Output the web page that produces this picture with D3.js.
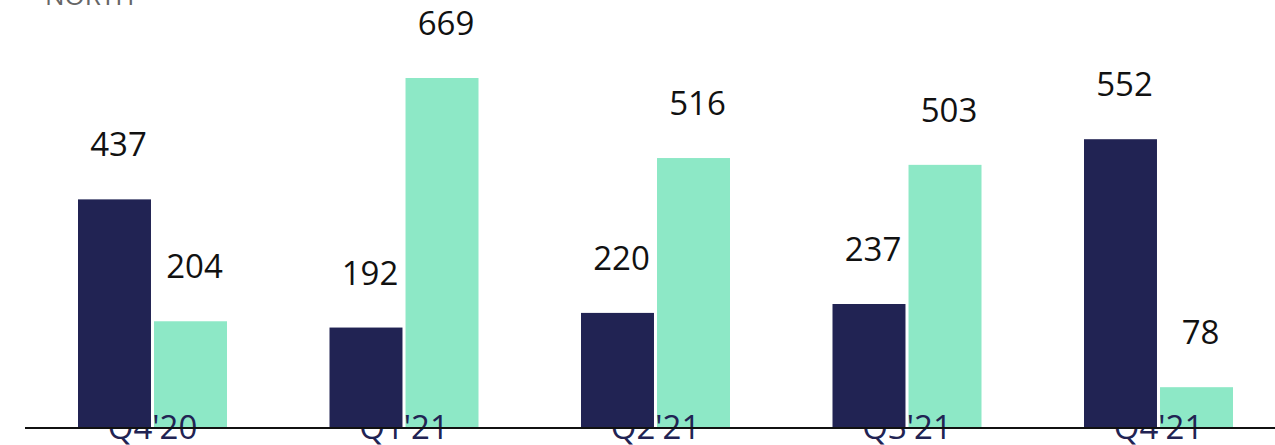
<!DOCTYPE html>
<html>
<head>
<meta charset="utf-8">
<script src="https://cdn.jsdelivr.net/npm/d3@7"></script>
<style>
  body { margin: 0; background: #fff; }
  svg { display: block; font-family: "Open Sans", sans-serif; }
</style>
</head>
<body>
<div id="chart"></div>
<script>
// chart data
const quarters = ["Q4'20", "Q1'21", "Q2'21", "Q3'21", "Q4'21"];
const seriesNames = ["first", "second"];
const firstValues = [437, 192, 220, 237, 552];
const secondValues = [204, 669, 516, 503, 78];
const title = "NORTH";

const colors = { first: "#212353", second: "#8de8c6" };

const width = 1275;
const height = 445;
const baseline = 428;

const data = quarters.map((q, i) => ({
  quarter: q,
  values: [
    { key: "first", value: firstValues[i] },
    { key: "second", value: secondValues[i] }
  ]
}));

const svg = d3.select('#chart').append('svg')
  .attr('width', width)
  .attr('height', height);

// group scale, one band per quarter
const x0 = d3.scaleBand()
  .domain(quarters)
  .range([26.75, 1284.25])
  .padding(0);

// bar scale inside each group
const x1 = d3.scaleBand()
  .domain(seriesNames)
  .range([51.25, 200.25])
  .paddingInner(0.04);

const y = d3.scaleLinear()
  .domain([0, 669])
  .range([baseline, 78]);

// title, mostly cut off at the top
svg.append('text')
  .attr('x', 45)
  .attr('y', 5)
  .attr('fill', '#666')
  .style('font-size', '26px')
  .text(title);

const groups = svg.selectAll('.group')
  .data(data)
  .enter().append('g')
  .attr('class', 'group')
  .attr('transform', d => `translate(${x0(d.quarter)}, 0)`);

groups.selectAll('rect')
  .data(d => d.values)
  .enter().append('rect')
  .attr('x', d => x1(d.key))
  .attr('width', x1.bandwidth())
  .attr('y', d => y(d.value))
  .attr('height', d => baseline - y(d.value))
  .attr('fill', d => colors[d.key]);

groups.selectAll('.value')
  .data(d => d.values)
  .enter().append('text')
  .attr('class', 'value')
  .attr('x', d => x1(d.key) + x1.bandwidth() / 2 + 4)
  .attr('y', d => y(d.value) - 43)
  .attr('text-anchor', 'middle')
  .attr('fill', '#111')
  .style('font-size', '33px')
  .text(d => d.value);

// baseline axis
const xAxis = d3.axisBottom(x0).tickSize(0).tickPadding(0);

const axis = svg.append('g')
  .attr('transform', `translate(0, ${baseline})`)
  .call(xAxis);

axis.select('.domain').remove();
axis.append('line')
  .attr('x1', 25).attr('x2', width)
  .attr('y1', 0).attr('y2', 0)
  .attr('stroke', '#111')
  .attr('stroke-width', 2);

axis.selectAll('.tick text')
  .attr('y', 11)
  .attr('dy', 0)
  .attr('fill', '#212353')
  .style('font-family', '"Open Sans", sans-serif')
  .style('font-size', '33px');
</script>
</body>
</html>
